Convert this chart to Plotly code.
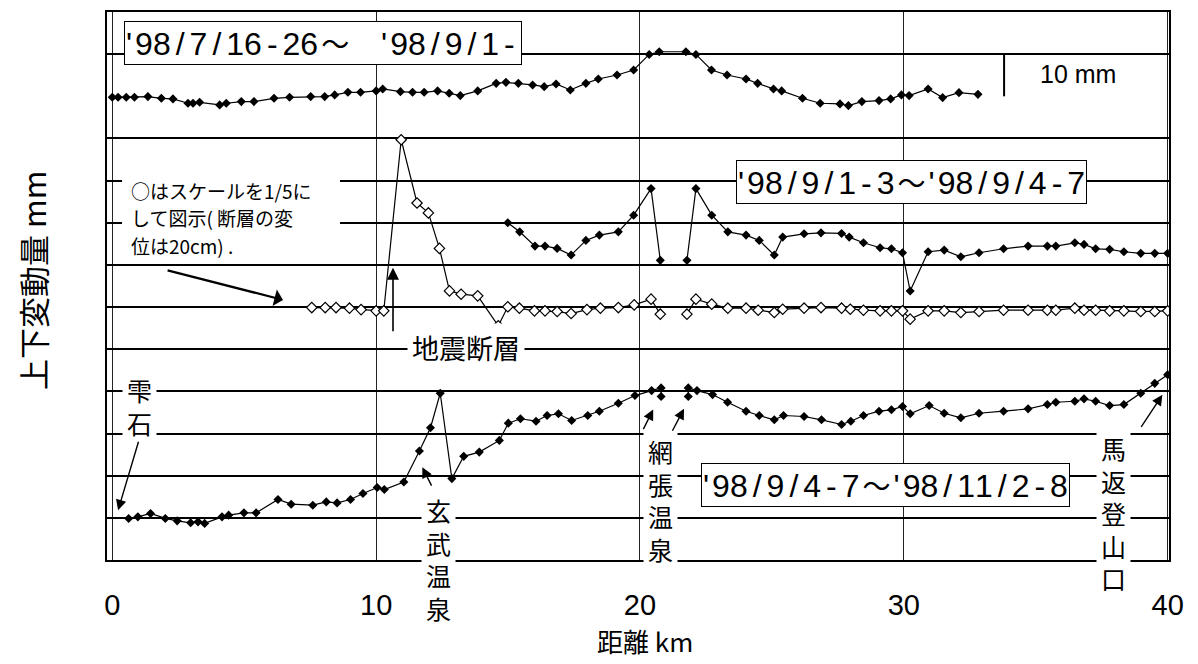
import numpy as np
import plotly.graph_objects as go

# ---------------- data (distance km, displacement mm) ----------------
# '98/7/16-26 ~ '98/9/1-  (plotted around baseline 110)
s1_x = [0.0, 0.22, 0.53, 0.84, 1.35, 1.86, 2.30, 2.87, 3.06, 3.31, 4.07, 4.32, 4.89, 5.37, 6.13, 6.72,
        7.52, 8.05, 8.43, 8.93, 9.41, 10.0, 10.25, 10.92, 11.38, 11.82, 12.33, 12.77, 13.19, 13.85,
        14.55, 14.92, 15.39, 15.93, 16.37, 16.82, 17.36, 17.95, 18.42, 19.13, 19.76, 20.35, 20.73,
        21.74, 22.12, 22.71, 23.30, 24.02, 24.46, 25.06, 25.37, 26.16, 26.83, 27.58, 27.90, 28.41,
        29.06, 29.50, 29.91, 30.20, 30.92, 31.47, 32.09, 32.81]
s1_y = [-0.24, -0.24, -0.24, -0.24, -0.07, -0.47, -0.61, -1.65, -1.65, -1.42, -2.04, -1.65, -1.25,
        -1.25, -0.47, -0.24, -0.07, -0.07, 0.33, 0.95, 0.95, 1.28, 1.75, 1.11, 0.95, 0.95, 1.28,
        0.71, 0.17, 1.28, 3.07, 3.31, 3.07, 2.69, 2.29, 2.93, 1.51, 3.07, 4.11, 5.06, 6.24, 9.93,
        10.57, 10.57, 9.93, 6.24, 5.06, 4.11, 3.07, 1.75, 1.28, -0.47, -1.65, -1.80, -2.20, -1.25,
        -1.02, -0.61, 0.33, 0.17, 1.75, -0.31, 0.87, 0.47]

# '98/9/1-3 ~ '98/9/4-7, full scale (filled), baseline 80
s2f_x = [14.99, 15.44, 16.02, 16.40, 16.86, 17.39, 17.95, 18.46, 19.18, 19.76, 20.42, 20.77, None,
         21.78, 22.12, 22.72, 23.33, 24.02, 24.52, 25.09, 25.41, 26.22, 26.86, 27.64, 27.93, 28.47,
         29.10, 29.53, 29.95, 30.24, 30.92, 31.53, 32.16, 32.85, 33.78, 34.71, 35.44, 35.76, 36.48,
         36.83, 37.27, 37.80, 38.34, 38.98, 39.51, 40.0]
s2f_y = [0.0, -2.15, -5.53, -5.53, -6.08, -7.66, -4.18, -2.93, -2.15, 1.80, 8.11, -8.91, None,
         -8.91, 8.11, 1.80, -2.15, -2.93, -4.18, -7.66, -3.40, -2.62, -2.39, -2.53, -3.40, -4.75,
         -5.93, -6.17, -7.12, -16.17, -6.88, -6.48, -8.06, -7.12, -6.17, -5.53, -5.53, -5.53, -4.75,
         -5.13, -6.17, -6.31, -6.88, -7.26, -7.26, -7.26]

# same period, shown at 1/5 scale (open), baseline 60 ; values in real mm
s2o_x = [7.56, 8.07, 8.48, 8.99, 9.43, 10.0, 10.29, 10.95, 11.55, 11.98, 12.40, 12.78, 13.22, 13.85,
         14.63, 14.99, 15.43, 16.0, 16.40, 16.86, 17.39, 17.99, 18.5, 19.18, 19.78, 20.42, 20.77, None,
         21.78, 22.12, 22.72, 23.33, 24.02, 24.48, 25.09, 25.41, 26.22, 26.86, 27.64, 27.97, 28.47,
         29.10, 29.53, 29.95, 30.24, 30.92, 31.53, 32.16, 32.85, 33.78, 34.71, 35.44, 35.76, 36.48,
         36.83, 37.27, 37.80, 38.34, 38.98, 39.51, 40.0]
s2o_y = [-0.6, -0.6, -0.6, -1.3, -3.0, -4.5, -4.5, 198.5, 123.5, 111.7, 69.6, 19.2, 15.3, 13.3,
         -22.2, 0.3, -1.3, -4.5, -4.5, -5.3, -7.7, -3.0, -1.3, -0.6, 2.6, 9.4, -8.4, None,
         -8.4, 9.4, 3.5, -1.3, -1.3, -3.7, -6.5, -2.5, -1.3, -0.6, -1.3, -2.5, -3.7, -4.5, -4.5,
         -4.5, -14.3, -4.5, -4.5, -6.5, -5.3, -3.7, -3.7, -3.7, -3.7, -1.3, -3.7, -3.7, -4.5, -4.5,
         -5.3, -5.3, -4.5]
s2o_scale = 5

# '98/9/4-7 ~ '98/11/2-8, baseline 10
s3_x = [0.62, 0.97, 1.45, 2.01, 2.46, 2.97, 3.25, 3.50, 4.16, 4.41, 4.99, 5.45, 6.28, 6.78, 7.60,
        8.11, 8.52, 9.03, 9.50, 10.04, 10.31, 11.05, 11.64, 12.06, 12.43, 12.87, 13.32, 13.91, 14.67,
        15.01, 15.47, 16.06, 16.48, 16.91, 17.41, 18.02, 18.46, 19.18, 19.81, 20.44, 20.80, 20.80, None,
        21.83, 21.83, 22.16, 22.75, 23.32, 24.02, 24.52, 25.09, 25.44, 26.22, 26.88, 27.64, 27.99,
        28.47, 29.06, 29.53, 29.95, 30.24, 30.96, 31.53, 32.16, 32.85, 33.78, 34.71, 35.44, 35.76,
        36.48, 36.83, 37.27, 37.80, 38.34, 38.98, 39.51, 40.0]
s3_y = [-0.14, 0.24, 1.04, -0.14, -0.71, -1.18, -0.95, -1.32, 0.24, 0.64, 1.18, 1.18, 4.35, 3.24,
        3.00, 3.78, 3.55, 4.35, 5.77, 7.19, 6.71, 8.51, 15.84, 21.37, 29.55, 9.31, 14.59, 15.60,
        18.37, 22.46, 23.50, 22.93, 24.28, 24.68, 23.10, 24.28, 25.30, 27.19, 29.01, 30.19, 30.83,
        28.77, None, 28.77, 30.83, 30.19, 29.24, 27.42, 25.30, 24.28, 23.26, 24.28, 24.04, 23.26,
        22.15, 22.93, 24.28, 25.30, 25.63, 26.41, 24.68, 26.64, 24.82, 23.74, 24.82, 25.30, 25.86,
        26.88, 27.42, 27.66, 28.23, 27.66, 26.64, 26.88, 29.55, 31.91, 33.97]

baselines = {"s1": 110, "s2f": 80, "s2o": 60, "s3": 10}
x_ticks = [0, 10, 20, 30, 40]
grid_y = [10, 20, 30, 40, 50, 60, 70, 80, 90, 100, 120]

label_box1 = "'98/7/16-26～ '98/9/1-"
label_box2 = "'98/9/1-3～'98/9/4-7"
label_box3 = "'98/9/4-7～'98/11/2-8"
note_lines = ["○はスケールを1/5に", "して図示( 断層の変", "位は20cm) ."]

# ---------------- figure ----------------
LAT = "Liberation Sans"
JP = "Noto Sans CJK JP"

def arr(v):
    return np.array(v, dtype=float)

def spaced(s):
    """Typewriter-like wide spacing of the period labels (characters unchanged)."""
    out = []
    for i, c in enumerate(s):
        nxt = s[i + 1] if i + 1 < len(s) else ""
        sp = 0.0
        if c in "/-":
            sp += 5
        if nxt in ("/", "-"):
            sp += 5
        if c == "'":
            sp += 3
        if c == "～":
            sp += 3
        if nxt == "～":
            sp += 3
        if c == " ":
            sp += 20
            c = "\u00a0"
        if c == "～":
            out.append('<span style="font-family:Noto Sans CJK JP;font-size:28px;letter-spacing:%.1fpx">%s</span>' % (sp, c))
        else:
            out.append('<span style="letter-spacing:%.1fpx">%s</span>' % (sp, c))
    return "".join(out)

fig = go.Figure()
line = dict(color="black", width=1.2)
filled = dict(symbol="diamond", size=7, color="black")
opened = dict(symbol="diamond", size=8, color="white", line=dict(color="black", width=1.2))

fig.add_trace(go.Scatter(x=arr(s1_x), y=arr(s1_y) + baselines["s1"], mode="lines+markers",
                         line=line, marker=filled, connectgaps=False))
fig.add_trace(go.Scatter(x=arr(s2o_x), y=arr(s2o_y) / s2o_scale + baselines["s2o"], mode="lines+markers",
                         line=line, marker=opened, connectgaps=False))
fig.add_trace(go.Scatter(x=arr(s2f_x), y=arr(s2f_y) + baselines["s2f"], mode="lines+markers",
                         line=line, marker=filled, connectgaps=False))
fig.add_trace(go.Scatter(x=arr(s3_x), y=arr(s3_y) + baselines["s3"], mode="lines+markers",
                         line=line, marker=filled, connectgaps=False))

ann = []

def box(text, x, y):
    ann.append(dict(x=x, y=y, xref="x", yref="y", text=spaced(text), showarrow=False,
                    xanchor="center", yanchor="middle",
                    font=dict(family=LAT, size=32, color="black"), bgcolor="white",
                    bordercolor="black", borderwidth=1, borderpad=1))

box(label_box1, 8.0, 122.6)
box(label_box2, 30.3, 89.7)
box(label_box3, 29.3, 17.7)

def label(text, x, y, size=25, align="center", xanchor="center", pad=4, bg="white"):
    ann.append(dict(x=x, y=y, xref="x", yref="y", text=text, showarrow=False, align=align,
                    xanchor=xanchor, yanchor="middle",
                    font=dict(family=JP, size=size, color="black"), bgcolor=bg, borderpad=pad))

# note: white patch behind the three-line remark
shapes = [dict(type="rect", xref="x", yref="y", x0=0.37, x1=8.63, y0=72.8, y1=92.2,
               fillcolor="white", line=dict(width=0), layer="above")]
for txt, yy in zip(note_lines, [87.6, 81.2, 74.7]):
    label(txt, 0.67, yy, size=19, align="left", xanchor="left", pad=0, bg="rgba(0,0,0,0)")

label("地震断層", 13.4, 50.4, size=27)
label("雫<br>石", 1.05, 36.4)
label("玄<br>武<br>温<br>泉", 12.35, 0.35)
label("網<br>張<br>温<br>泉", 20.76, 14.2)
label("馬<br>返<br>登<br>山<br>口", 37.93, 11.2)

ann.append(dict(x=35.1, y=115.4, xref="x", yref="y", text="10 mm", showarrow=False,
                xanchor="left", yanchor="middle",
                font=dict(family=LAT, size=25, color="black")))

def arrow(x0, y0, x1, y1, size=1.6, width=1.5, head=2):
    ann.append(dict(x=x1, y=y1, ax=x0, ay=y0, xref="x", yref="y", axref="x", ayref="y", text="",
                    showarrow=True, arrowhead=head, arrowsize=size, arrowwidth=width,
                    arrowcolor="black", standoff=0, startstandoff=0))

arrow(10.64, 53.9, 10.64, 69.3, size=1.5, width=1.6)
arrow(1.01, 28.4, 0.22, 11.8, size=1.5, width=1.4)
arrow(12.13, 17.3, 11.75, 22.0, size=1.5, width=1.4)
arrow(20.1, 30.7, 20.5, 35.7, size=1.5, width=1.4)
arrow(21.2, 30.3, 21.67, 35.9, size=1.5, width=1.4)
arrow(38.96, 31.2, 39.8, 39.2, size=1.5, width=1.4)
arrow(2.04, 68.8, 6.47, 61.7, size=1.3, width=2.2, head=1)

ann.append(dict(x=0.507, y=-0.1473, xref="paper", yref="paper", text="距離 km", showarrow=False,
                xanchor="center", yanchor="middle",
                font=dict(family=JP, size=26, color="black")))
ann.append(dict(x=-0.0697, y=0.511, xref="paper", yref="paper", text="上下変動量 mm", showarrow=False,
                xanchor="center", yanchor="middle", textangle=-90,
                font=dict(family=JP, size=31, color="black")))

shapes.append(dict(type="line", xref="x", yref="y", x0=33.8, x1=33.8, y0=110, y1=120,
                   line=dict(color="black", width=2)))

fig.update_layout(
    width=1198, height=664,
    margin=dict(l=107, r=29, t=10, b=104),
    paper_bgcolor="white", plot_bgcolor="white",
    showlegend=False,
    annotations=ann, shapes=shapes,
    xaxis=dict(range=[-0.2, 40.05], tickvals=x_ticks, ticktext=[str(v) for v in x_ticks],
               showgrid=True, gridcolor="#222", gridwidth=1, zeroline=False,
               showline=True, linecolor="black", linewidth=2, mirror=True, ticks="",
               ticklabelstandoff=18,
               tickfont=dict(family=LAT, size=29, color="black")),
    yaxis=dict(range=[0, 130], tickvals=grid_y, showticklabels=False,
               showgrid=True, gridcolor="black", gridwidth=1.6, zeroline=False,
               showline=True, linecolor="black", linewidth=2, mirror=True, ticks=""),
)

fig.write_html("out.html", config={"displayModeBar": False},
               post_script="document.body.style.margin='0';")
